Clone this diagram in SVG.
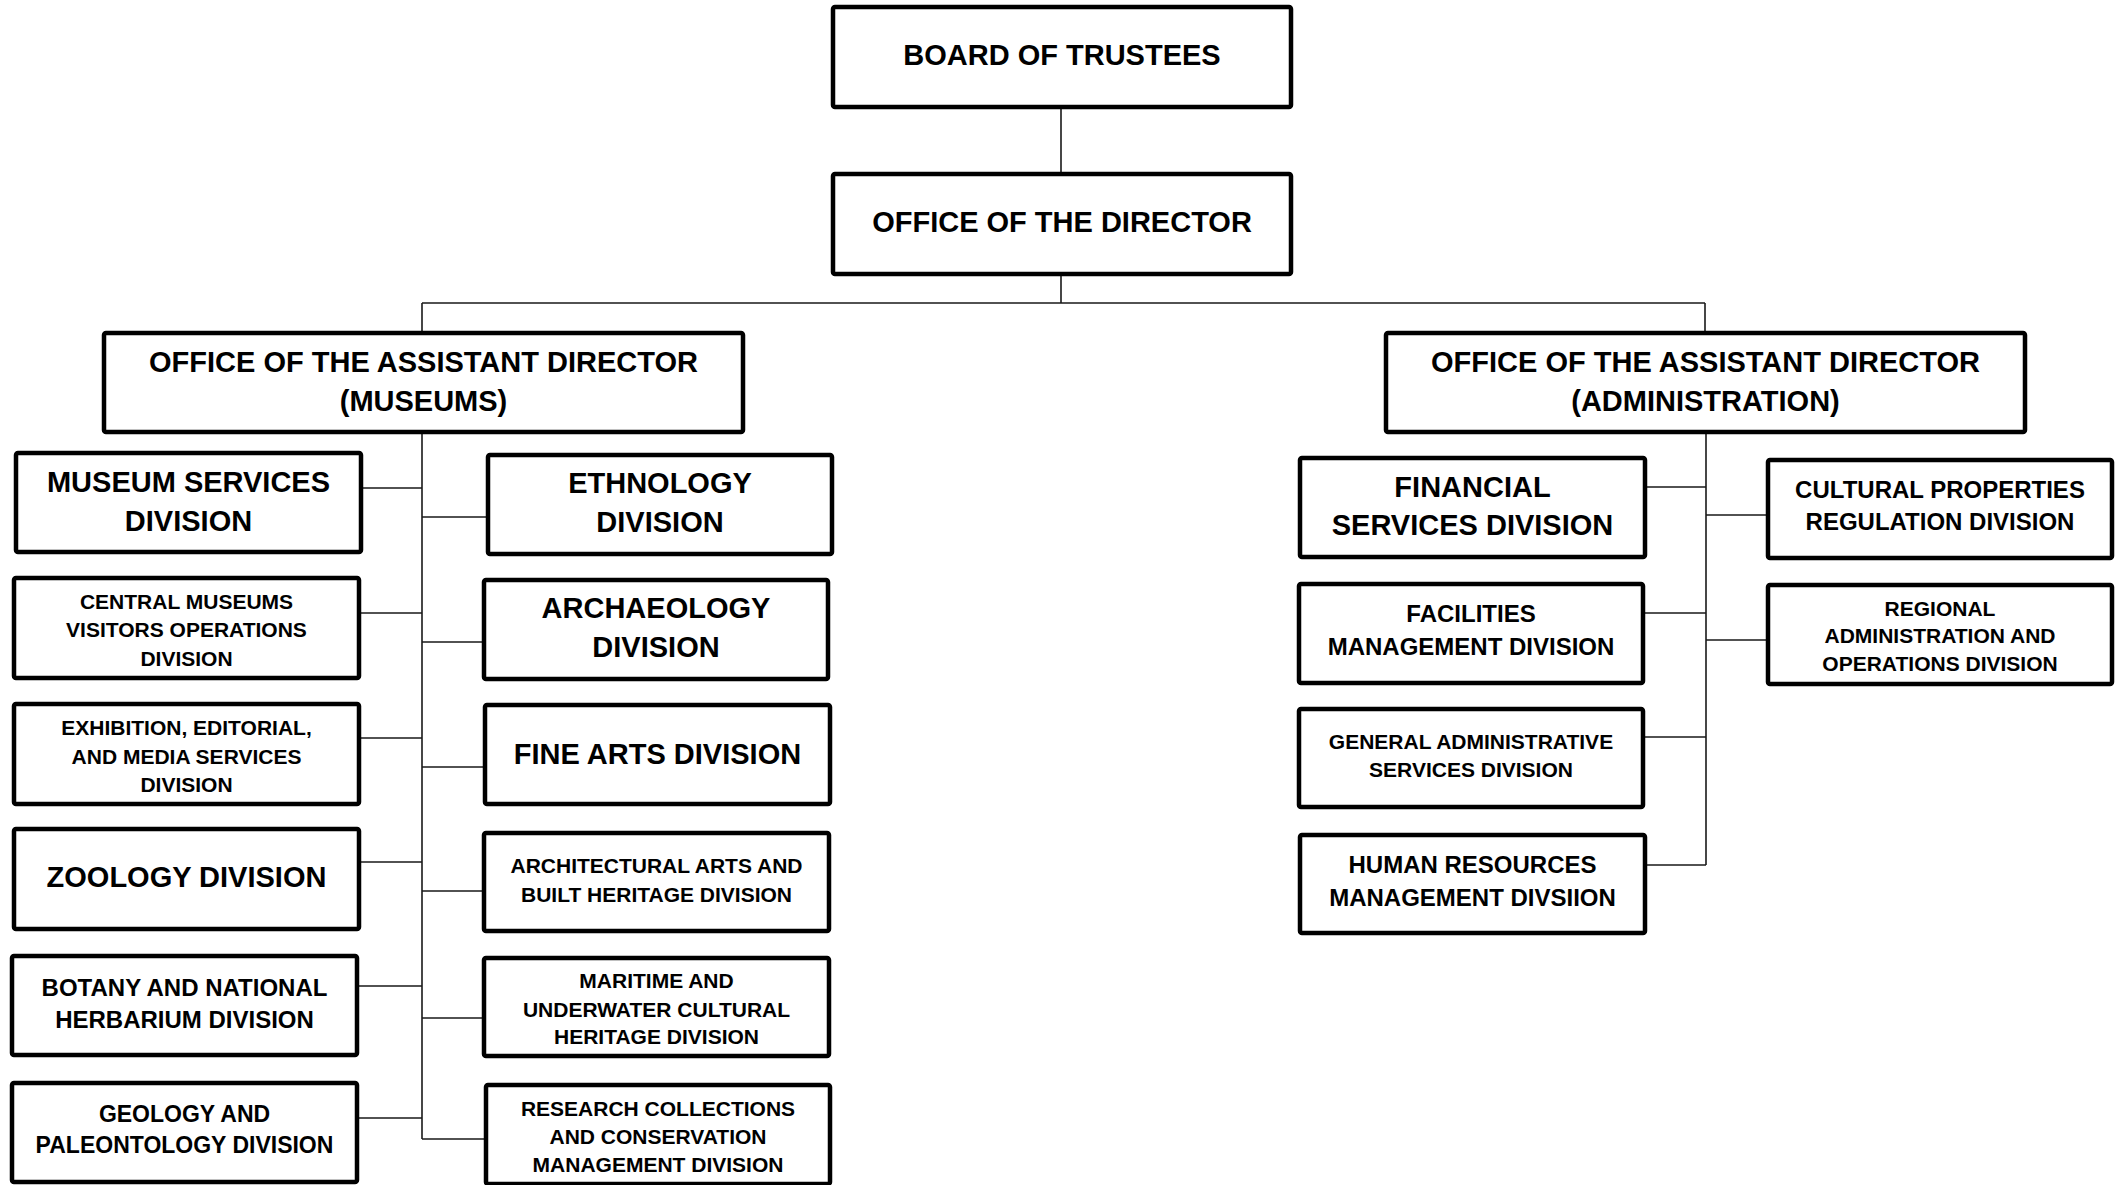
<svg xmlns="http://www.w3.org/2000/svg" width="2124" height="1185" viewBox="0 0 2124 1185">
<style>
.box{fill:#fff;stroke:#000;stroke-width:4.5;stroke-linejoin:round}
.t{font-family:"Liberation Sans",Arial,sans-serif;font-weight:bold;text-anchor:middle;fill:#000}
.xl{font-size:29px}
.l{font-size:24px}
.m{font-size:23px}
.s{font-size:21px}
.c{stroke:#1a1a1a;stroke-width:1.6;fill:none}
</style>
<rect width="2124" height="1185" fill="#fff"/>
<g id="connectors" class="c">
<path d="M1061,109V172M1061,276V303M422,303H1705M422,303V331M1705,303V331"/>
<path d="M422,434V1139M363,488H422M361,613H422M361,738H422M361,862H422M359,986H422M359,1118H422"/>
<path d="M422,517H486M422,642H482M422,767H483M422,891H482M422,1018H482M422,1139H484"/>
<path d="M1706,434V865M1647,487H1706M1645,613H1706M1645,737H1706M1647,865H1706M1706,515H1766M1706,640H1766"/>
</g>
<g id="board">
<rect class="box" x="833" y="7" width="458" height="100" rx="2"/>
<text class="t xl" x="1062" y="65">BOARD OF TRUSTEES</text>
</g>
<g id="director">
<rect class="box" x="833" y="174" width="458" height="100" rx="2"/>
<text class="t xl" x="1062" y="232">OFFICE OF THE DIRECTOR</text>
</g>
<g id="ad-museums">
<rect class="box" x="104" y="333" width="639" height="99" rx="2"/>
<text class="t xl" x="423.5" y="372">OFFICE OF THE ASSISTANT DIRECTOR</text>
<text class="t xl" x="423.5" y="411">(MUSEUMS)</text>
</g>
<g id="ad-admin">
<rect class="box" x="1386" y="333" width="639" height="99" rx="2"/>
<text class="t xl" x="1705.5" y="372">OFFICE OF THE ASSISTANT DIRECTOR</text>
<text class="t xl" x="1705.5" y="411">(ADMINISTRATION)</text>
</g>
<g id="museum-services">
<rect class="box" x="16" y="453" width="345" height="99" rx="2"/>
<text class="t xl" x="188.5" y="492">MUSEUM SERVICES</text>
<text class="t xl" x="188.5" y="531">DIVISION</text>
</g>
<g id="central-museums">
<rect class="box" x="14" y="578" width="345" height="100" rx="2"/>
<text class="t s" x="186.5" y="609">CENTRAL MUSEUMS</text>
<text class="t s" x="186.5" y="637">VISITORS OPERATIONS</text>
<text class="t s" x="186.5" y="666">DIVISION</text>
</g>
<g id="exhibition">
<rect class="box" x="14" y="704" width="345" height="100" rx="2"/>
<text class="t s" x="186.5" y="735">EXHIBITION, EDITORIAL,</text>
<text class="t s" x="186.5" y="764">AND MEDIA SERVICES</text>
<text class="t s" x="186.5" y="792">DIVISION</text>
</g>
<g id="zoology">
<rect class="box" x="14" y="829" width="345" height="100" rx="2"/>
<text class="t xl" x="186.5" y="887">ZOOLOGY DIVISION</text>
</g>
<g id="botany">
<rect class="box" x="12" y="956" width="345" height="99" rx="2"/>
<text class="t l" x="184.5" y="996">BOTANY AND NATIONAL</text>
<text class="t l" x="184.5" y="1028">HERBARIUM DIVISION</text>
</g>
<g id="geology">
<rect class="box" x="12" y="1083" width="345" height="99" rx="2"/>
<text class="t m" x="184.5" y="1122">GEOLOGY AND</text>
<text class="t m" x="184.5" y="1153">PALEONTOLOGY DIVISION</text>
</g>
<g id="ethnology">
<rect class="box" x="488" y="455" width="344" height="99" rx="2"/>
<text class="t xl" x="660" y="493">ETHNOLOGY</text>
<text class="t xl" x="660" y="532">DIVISION</text>
</g>
<g id="archaeology">
<rect class="box" x="484" y="580" width="344" height="99" rx="2"/>
<text class="t xl" x="656" y="618">ARCHAEOLOGY</text>
<text class="t xl" x="656" y="657">DIVISION</text>
</g>
<g id="fine-arts">
<rect class="box" x="485" y="705" width="345" height="99" rx="2"/>
<text class="t xl" x="657.5" y="764">FINE ARTS DIVISION</text>
</g>
<g id="architectural">
<rect class="box" x="484" y="833" width="345" height="98" rx="2"/>
<text class="t s" x="656.5" y="873">ARCHITECTURAL ARTS AND</text>
<text class="t s" x="656.5" y="902">BUILT HERITAGE DIVISION</text>
</g>
<g id="maritime">
<rect class="box" x="484" y="958" width="345" height="98" rx="2"/>
<text class="t s" x="656.5" y="988">MARITIME AND</text>
<text class="t s" x="656.5" y="1017">UNDERWATER CULTURAL</text>
<text class="t s" x="656.5" y="1044">HERITAGE DIVISION</text>
</g>
<g id="research">
<rect class="box" x="486" y="1085" width="344" height="99" rx="2"/>
<text class="t s" x="658" y="1116">RESEARCH COLLECTIONS</text>
<text class="t s" x="658" y="1144">AND CONSERVATION</text>
<text class="t s" x="658" y="1172">MANAGEMENT DIVISION</text>
</g>
<g id="financial">
<rect class="box" x="1300" y="458" width="345" height="99" rx="2"/>
<text class="t xl" x="1472.5" y="497">FINANCIAL</text>
<text class="t xl" x="1472.5" y="535">SERVICES DIVISION</text>
</g>
<g id="facilities">
<rect class="box" x="1299" y="584" width="344" height="99" rx="2"/>
<text class="t l" x="1471" y="622">FACILITIES</text>
<text class="t l" x="1471" y="655">MANAGEMENT DIVISION</text>
</g>
<g id="general-admin">
<rect class="box" x="1299" y="709" width="344" height="98" rx="2"/>
<text class="t s" x="1471" y="749">GENERAL ADMINISTRATIVE</text>
<text class="t s" x="1471" y="777">SERVICES DIVISION</text>
</g>
<g id="human-resources">
<rect class="box" x="1300" y="835" width="345" height="98" rx="2"/>
<text class="t l" x="1472.5" y="873">HUMAN RESOURCES</text>
<text class="t l" x="1472.5" y="906">MANAGEMENT DIVSIION</text>
</g>
<g id="cultural-properties">
<rect class="box" x="1768" y="460" width="344" height="98" rx="2"/>
<text class="t l" x="1940" y="498">CULTURAL PROPERTIES</text>
<text class="t l" x="1940" y="530">REGULATION DIVISION</text>
</g>
<g id="regional">
<rect class="box" x="1768" y="585" width="344" height="99" rx="2"/>
<text class="t s" x="1940" y="616">REGIONAL</text>
<text class="t s" x="1940" y="643">ADMINISTRATION AND</text>
<text class="t s" x="1940" y="671">OPERATIONS DIVISION</text>
</g>
</svg>
